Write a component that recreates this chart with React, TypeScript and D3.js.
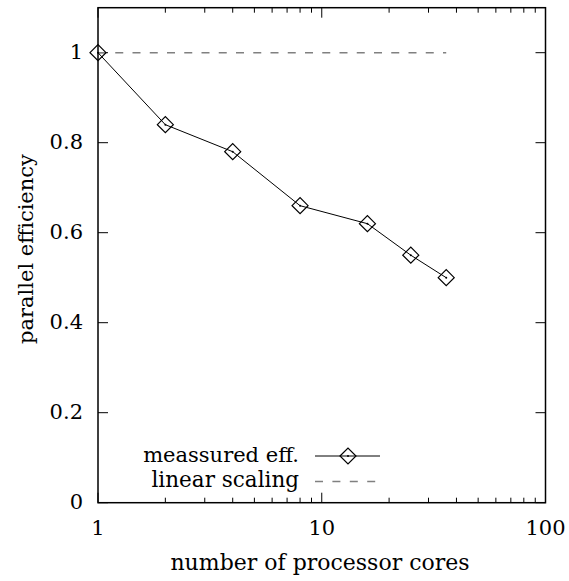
import React from "react";
import * as d3 from "d3";

const cores = [1, 2, 4, 8, 16, 25, 36];
const efficiency = [1.0, 0.84, 0.78, 0.66, 0.62, 0.55, 0.5];
const linearX = [1, 36];
const linearY = [1, 1];
const yTicks = [0, 0.2, 0.4, 0.6, 0.8, 1];
const yTickLabels = ["0", "0.2", "0.4", "0.6", "0.8", "1"];
const xMajor = [1, 10, 100];
const xMajorLabels = ["1", "10", "100"];
const xMinor = [2, 3, 4, 5, 6, 7, 8, 9, 20, 30, 40, 50, 60, 70, 80, 90];

const W = 569;
const H = 581;
const L = 98, R = 545.5, T = 7.7, B = 502.7;
const FONT = "'DejaVu Serif', serif";
const FS = 21;

function Diamond({ cx, cy }: { cx: number; cy: number }) {
  const s = 8;
  return (
    <g>
      <path
        d={`M${cx - s},${cy}L${cx},${cy - s}L${cx + s},${cy}L${cx},${cy + s}Z`}
        fill="none"
        stroke="#000"
        strokeWidth={1.2}
      />
      <circle cx={cx} cy={cy} r={1} fill="#000" />
    </g>
  );
}

export default function App() {
  const x = d3.scaleLog().domain([1, 100]).range([L, R]);
  const y = d3.scaleLinear().domain([0, 1.1]).range([B, T]);
  const line = d3
    .line<number>()
    .x((_, i) => x(cores[i]))
    .y((d) => y(d));
  const linLine = d3
    .line<number>()
    .x((_, i) => x(linearX[i]))
    .y((d) => y(d));

  return (
    <svg
      width={W}
      height={H}
      style={{ position: "absolute", left: 0, top: 0 }}
      fontFamily={FONT}
      fontSize={FS}
    >
      <rect x={0} y={0} width={W} height={H} fill="#fff" />
      {/* y ticks */}
      {yTicks.map((v, i) => (
        <g key={"y" + i}>
          <line x1={L} x2={L + 10} y1={y(v)} y2={y(v)} stroke="#000" strokeWidth={1} />
          <line x1={R} x2={R - 10} y1={y(v)} y2={y(v)} stroke="#000" strokeWidth={1} />
          <text x={83} y={y(v) + 6} textAnchor="end" fill="#000">
            {yTickLabels[i]}
          </text>
        </g>
      ))}
      {/* x ticks */}
      {xMajor.map((v, i) => (
        <g key={"xM" + i}>
          <line x1={x(v)} x2={x(v)} y1={B} y2={B - 10} stroke="#000" strokeWidth={1} />
          <line x1={x(v)} x2={x(v)} y1={T} y2={T + 10} stroke="#000" strokeWidth={1} />
          <text x={x(v)} y={535} textAnchor="middle" fill="#000">
            {xMajorLabels[i]}
          </text>
        </g>
      ))}
      {xMinor.map((v, i) => (
        <g key={"xm" + i}>
          <line x1={x(v)} x2={x(v)} y1={B} y2={B - 5} stroke="#000" strokeWidth={1} />
          <line x1={x(v)} x2={x(v)} y1={T} y2={T + 5} stroke="#000" strokeWidth={1} />
        </g>
      ))}
      {/* linear scaling */}
      <path
        d={linLine(linearY) || ""}
        fill="none"
        stroke="#808080"
        strokeWidth={1.5}
        strokeDasharray="8,9.25"
      />
      {/* measured */}
      <path d={line(efficiency) || ""} fill="none" stroke="#000" strokeWidth={1} />
      {efficiency.map((v, i) => (
        <Diamond key={"d" + i} cx={x(cores[i])} cy={y(v)} />
      ))}
      {/* border */}
      <rect x={L} y={T} width={R - L} height={B - T} fill="none" stroke="#000" strokeWidth={1.5} />
      {/* legend */}
      <text x={299} y={462} textAnchor="end" fill="#000">meassured eff.</text>
      <line x1={315} x2={380} y1={456} y2={456} stroke="#000" strokeWidth={1} />
      <Diamond cx={348} cy={456} />
      <text x={299} y={487} textAnchor="end" fill="#000" fontSize={21.5}>linear scaling</text>
      <line
        x1={315}
        x2={378}
        y1={481.5}
        y2={481.5}
        stroke="#808080"
        strokeWidth={1.5}
        strokeDasharray="8,9.4"
      />
      {/* axis labels */}
      <text x={320} y={570} textAnchor="middle" fill="#000" fontSize={22}>
        number of processor cores
      </text>
      <text
        transform={`translate(33,249) rotate(-90)`}
        textAnchor="middle"
        fill="#000"
      >
        parallel efficiency
      </text>
    </svg>
  );
}
